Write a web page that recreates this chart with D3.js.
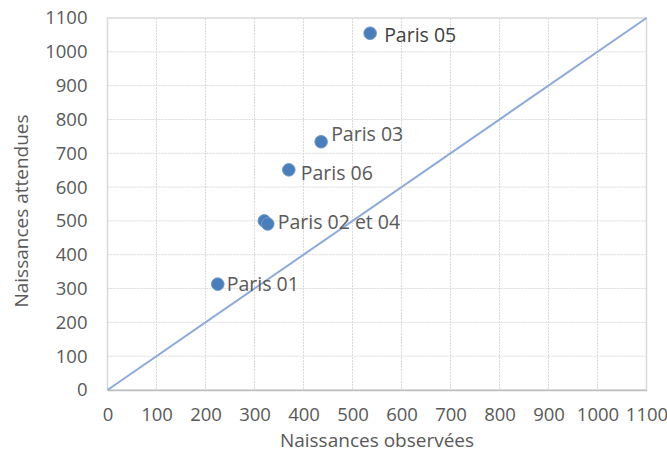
<!DOCTYPE html>
<html>
<head>
<meta charset="utf-8">
<script src="https://cdn.jsdelivr.net/npm/d3@7"></script>
<style>
  body { margin: 0; background: #fff; }
  svg { display: block; font-family: "Open Sans", Lato, sans-serif; }
</style>
</head>
<body>
<svg id="chart" width="667" height="454"></svg>
<script>
// Births per arrondissement: observed vs expected
const names    = ["Paris 01", "Paris 02", "Paris 04", "Paris 06", "Paris 03", "Paris 05"];
const observed = [225, 320, 327, 370, 436, 536];
const expected = [313, 500, 491, 651, 734, 1055];
const labels   = ["Paris 01", "", "Paris 02 et 04", "Paris 06", "Paris 03", "Paris 05"];
const ticks    = [0, 100, 200, 300, 400, 500, 600, 700, 800, 900, 1000, 1100];

// label placement relative to each point (pixels)
const labelDx = [9, 0, 10, 12, 10, 14];
const labelDy = [0, 0, -2, 3, -7.5, 2];
const labelColor = ["#595959", "#595959", "#595959", "#595959", "#595959", "#404040"];

const svg = d3.select("#chart");
const m = { left: 107.5, right: 646.5, top: 18, bottom: 390 };

const x = d3.scaleLinear().domain([0, 1100]).range([m.left, m.right]);
const y = d3.scaleLinear().domain([0, 1100]).range([m.bottom, m.top]);

// dotted grid
const grid = svg.append("g");
grid.selectAll(".vx").data(ticks.slice(1, -1)).join("line")
  .attr("x1", d => x(d)).attr("x2", d => x(d))
  .attr("y1", m.top).attr("y2", m.bottom)
  .attr("stroke", "#d9d9d9").attr("stroke-width", 1).attr("stroke-dasharray", "2,1");
grid.selectAll(".hy").data(ticks.slice(1, -1)).join("line")
  .attr("x1", m.left).attr("x2", m.right)
  .attr("y1", d => y(d)).attr("y2", d => y(d))
  .attr("stroke", "#d9d9d9").attr("stroke-width", 1).attr("stroke-dasharray", "2,1");

// plot frame
svg.append("rect")
  .attr("x", m.left).attr("y", m.top)
  .attr("width", m.right - m.left).attr("height", m.bottom - m.top)
  .attr("fill", "none").attr("stroke", "#d9d9d9").attr("stroke-width", 1.5);

// axes
const fmt = d3.format("d");
const xAxis = d3.axisBottom(x).tickValues(ticks).tickFormat(fmt).tickSize(0).tickPadding(18);
const yAxis = d3.axisLeft(y).tickValues(ticks).tickFormat(fmt).tickSize(0).tickPadding(20);
const gx = svg.append("g").attr("transform", `translate(0,${m.bottom})`).call(xAxis);
const gy = svg.append("g").attr("transform", `translate(${m.left},0)`).call(yAxis);
[gx, gy].forEach(g => {
  g.selectAll("text").attr("fill", "#595959").style("font-size", "18.5px")
   .style("font-family", "'Open Sans', Lato, sans-serif");
});
gy.select(".domain").remove();
gx.select(".domain").attr("stroke", "#bfbfbf").attr("stroke-width", 1.5);

// y = x reference line
svg.append("line")
  .attr("x1", x(0)).attr("y1", y(0)).attr("x2", x(1100)).attr("y2", y(1100))
  .attr("stroke", "#8eaadb").attr("stroke-width", 2);

// points
const pts = names.map((n, i) => ({
  n, ox: observed[i], ex: expected[i], label: labels[i],
  dx: labelDx[i], dy: labelDy[i], color: labelColor[i]
}));
svg.append("g").selectAll("circle").data(pts).join("circle")
  .attr("cx", d => x(d.ox)).attr("cy", d => y(d.ex)).attr("r", 6.3)
  .attr("fill", "#4a7ebb").attr("stroke", "#6f99cc").attr("stroke-width", 1);

svg.append("g").selectAll("text").data(pts.filter(d => d.label)).join("text")
  .attr("x", d => x(d.ox) + d.dx).attr("y", d => y(d.ex) + d.dy)
  .attr("dy", "0.35em")
  .attr("fill", d => d.color).style("font-size", "19.5px")
  .text(d => d.label);

// axis titles
svg.append("text")
  .attr("x", (m.left + m.right) / 2).attr("y", 447)
  .attr("text-anchor", "middle").attr("fill", "#595959").style("font-size", "19px")
  .text("Naissances observées");
svg.append("text")
  .attr("transform", `translate(28,${(m.top + m.bottom) / 2 + 7}) rotate(-90)`)
  .attr("text-anchor", "middle").attr("fill", "#595959").style("font-size", "19px")
  .text("Naissances attendues");
</script>
</body>
</html>
